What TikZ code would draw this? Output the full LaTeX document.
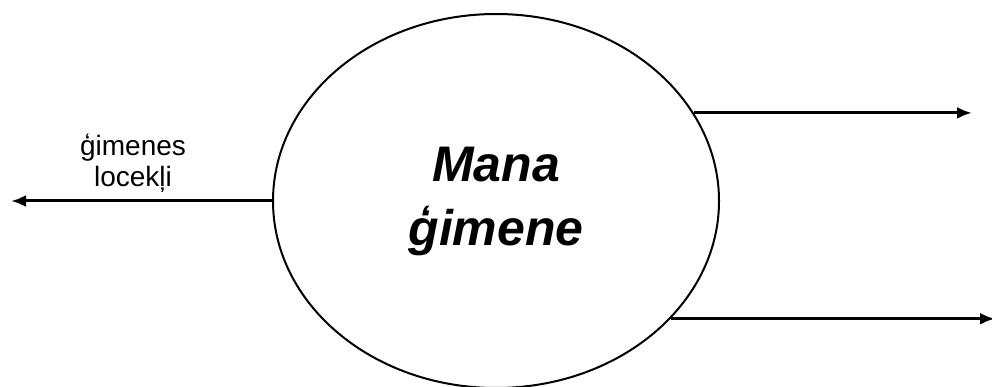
\documentclass[tikz,border=0pt]{standalone}
\usepackage{fontspec}
\setmainfont{Liberation Sans}
\usetikzlibrary{shapes.geometric,arrows.meta}
\tikzset{>={Latex[length=15pt,width=12pt]}}
\tikzset{flow/.style={line width=3pt,->}}

\begin{document}
\begin{tikzpicture}[x=1pt,y=-1pt]
    \def\CX{496}   % centre of the ellipse
    \def\CY{201}
    \def\RX{223}   % half width
    \def\RY{187}   % half height

    \useasboundingbox (0,0) rectangle (992,387);

    \node [draw, ellipse, line width=2pt, inner sep=0pt,
           minimum width=2*\RX, minimum height=2*\RY,
           align=center, font=\fontsize{50}{64}\selectfont\bfseries\itshape]
           (mana) at (\CX, \CY) {Mana\\ ģimene};

    \coordinate (leftend) at (11, 201);
    \coordinate (topend) at (972, 109);
    \coordinate (botend) at (995, 319);

    \draw [flow] (mana.west) -- (leftend);
    \draw [flow] (mana.24) -- (mana.24 -| topend);
    \draw [flow] (mana.-34.5) -- (mana.-34.5 -| botend);

    \node [align=center, font=\fontsize{28}{31}\selectfont]
           (members) at (133, 163) {ģimenes\\ locekļi};
\end{tikzpicture}
\end{document}
